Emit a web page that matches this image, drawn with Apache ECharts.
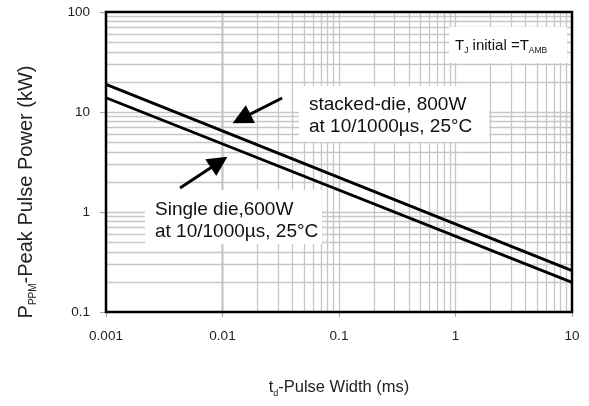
<!DOCTYPE html>
<html>
<head>
<meta charset="utf-8">
<script src="https://cdn.jsdelivr.net/npm/echarts@6/dist/echarts.min.js"></script>
<style>html,body{margin:0;padding:0;background:#fff}#c{width:589px;height:406px}</style>
</head>
<body>
<div id="c"></div>
<script>
// ---- data ----
const pulseWidth = [0.001, 10];          // ms
const stackedDie = [18.9, 0.259];        // kW
const singleDie  = [13.9, 0.198];        // kW
const xTicks = [0.001, 0.01, 0.1, 1, 10];
const yTicks = [0.1, 1, 10, 100];
const xDecades = [0.001, 0.01, 0.1, 1];
const yDecades = [0.1, 1, 10];
const minorMult = [2, 3, 4, 5, 6, 7, 8, 9];
// annotation arrows (data coords: start -> head)
const arrowStacked = [[0.0325, 13.8], [0.01455, 8.57]];
const arrowSingle  = [[0.00432, 1.74], [0.00935, 3.15]];

const FONT = 'Liberation Sans';
const gridColor = '#c6c6c6';

const xMinor = [];
xDecades.forEach(d => minorMult.forEach(m => xMinor.push(+(d * m).toPrecision(3))));
const yMinor = [];
yDecades.forEach(d => minorMult.forEach(m => yMinor.push(+(d * m).toPrecision(3))));

const gridLines = [];
xMinor.forEach(v => gridLines.push({ xAxis: v }));
xTicks.slice(1, -1).forEach(v => gridLines.push({ xAxis: v }));
yMinor.forEach(v => gridLines.push({ yAxis: v }));
yTicks.slice(1, -1).forEach(v => gridLines.push({ yAxis: v }));

const chart = echarts.init(document.getElementById('c'), null, { renderer: 'canvas' });

const lineStyleData = { color: '#000', width: 2.8 };
const arrowMark = (a) => ({
  silent: true, z: 7, symbol: ['none', 'triangle'], symbolSize: 20,
  label: { show: false },
  lineStyle: { color: '#000', width: 3, type: 'solid' },
  itemStyle: { color: '#000' },
  emphasis: { disabled: true },
  data: [[{ coord: a[0] }, { coord: a[1] }]]
});

chart.setOption({
  animation: false,
  backgroundColor: '#fff',
  textStyle: { fontFamily: FONT },
  grid: { left: 106, right: 17, top: 12, bottom: 94, show: true, borderColor: '#000', borderWidth: 2.5, backgroundColor: 'transparent', z: 10 },
  xAxis: {
    type: 'log', logBase: 10, min: 0.001, max: 10,
    axisLine: { show: false },
    axisTick: { show: true, length: 5, lineStyle: { color: '#aaa', width: 1.2 } },
    axisLabel: { margin: 17, fontSize: 13.5, color: '#222', fontFamily: FONT,
      formatter: v => xTicks.find(t => Math.abs(Math.log10(t) - Math.log10(v)) < 1e-6) + '' },
    splitLine: { show: false },
    minorTick: { show: false },
    name: '{a|t}{b|d}{a|-Pulse Width (ms)}',
    nameLocation: 'middle', nameGap: 64,
    nameTextStyle: {
      rich: {
        a: { fontSize: 16.5, color: '#222', fontFamily: FONT, lineHeight: 22 },
        b: { fontSize: 9, color: '#222', fontFamily: FONT, lineHeight: 22, padding: [14, 0, 0, 0] }
      }
    }
  },
  yAxis: {
    type: 'log', logBase: 10, min: 0.1, max: 100,
    axisLine: { show: false },
    axisTick: { show: true, length: 6, lineStyle: { color: '#aaa', width: 1.2 } },
    axisLabel: { margin: 16, fontSize: 13.5, color: '#222', fontFamily: FONT,
      formatter: v => yTicks.find(t => Math.abs(Math.log10(t) - Math.log10(v)) < 1e-6) + '' },
    splitLine: { show: false },
    name: '{a|P}{b|PPM}{a|-Peak Pulse Power (kW)}',
    nameLocation: 'middle', nameGap: 68,
    nameTextStyle: {
      padding: [0, 60, 0, 0],
      rich: {
        a: { fontSize: 20, color: '#222', fontFamily: FONT, lineHeight: 24 },
        b: { fontSize: 10, color: '#222', fontFamily: FONT, lineHeight: 24, padding: [15, 0, 0, 0] }
      }
    }
  },
  series: [
    {
      type: 'line', data: [], z: 1, silent: true,
      markLine: {
        silent: true, z: 1, symbol: 'none', animation: false,
        label: { show: false },
        lineStyle: { color: gridColor, width: 1.3, type: 'solid' },
        emphasis: { disabled: true },
        data: gridLines
      }
    },
    {
      name: 'stacked-die', type: 'line', z: 6, symbol: 'none',
      lineStyle: lineStyleData,
      data: pulseWidth.map((x, i) => [x, stackedDie[i]]),
      markLine: arrowMark(arrowStacked)
    },
    {
      name: 'single-die', type: 'line', z: 6, symbol: 'none',
      lineStyle: lineStyleData,
      data: pulseWidth.map((x, i) => [x, singleDie[i]]),
      markLine: arrowMark(arrowSingle)
    }
  ],
  graphic: [
    { type: 'rect', z: 20, shape: { x: 299, y: 86, width: 190, height: 56 }, style: { fill: '#fff' } },
    { type: 'text', z: 21, left: 309, top: 94,
      style: { text: 'stacked-die, 800W\nat 10/1000µs, 25°C', font: '19px "Liberation Sans"', fill: '#111', lineHeight: 22 } },
    { type: 'rect', z: 20, shape: { x: 145, y: 190, width: 177, height: 54 }, style: { fill: '#fff' } },
    { type: 'text', z: 21, left: 155, top: 199,
      style: { text: 'Single die,600W\nat 10/1000µs, 25°C', font: '19px "Liberation Sans"', fill: '#111', lineHeight: 22 } },
    { type: 'rect', z: 20, shape: { x: 449, y: 27, width: 118, height: 36 }, style: { fill: '#fff' } },
    { type: 'text', z: 21, left: 455, top: 37,
      style: {
        text: '{a|T}{b|J}{a| initial =T}{b|AMB}',
        rich: {
          a: { fontSize: 15, fill: '#111', fontFamily: FONT, lineHeight: 18 },
          b: { fontSize: 8.5, fill: '#111', fontFamily: FONT, lineHeight: 18, padding: [9, 0, 0, 0] }
        }
      } }
  ]
});
</script>
</body>
</html>
